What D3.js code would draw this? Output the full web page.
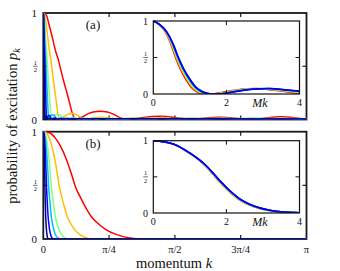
<!DOCTYPE html>
<html><head><meta charset="utf-8">
<script src="https://cdn.jsdelivr.net/npm/d3@7"></script>
<style>
html,body{margin:0;padding:0;background:#fff;}
svg{display:block;}
text{font-family:"Liberation Serif","DejaVu Serif",serif;fill:#111;}
</style></head>
<body>
<svg id="chart" width="340" height="271"></svg>
<script>
// ---------- data ----------
const seriesColors = ["#ff0000", "#ffbf00", "#80ff80", "#00bfff", "#0000ff", "#00008b"];
const seriesM = [5, 10, 20, 30, 50, 100];
// relative height of the oscillating tail in panel (a), per series
const tailScaleA = [1, 0.72, 0.64, 0.58, 0.5, 0.4];

// panel (a) main: p versus M*k
const shapeA_u = [0, 0.18, 0.36, 0.54, 0.72, 0.90, 1.07, 1.25, 1.43, 1.61, 1.73, 1.85, 1.97, 2.09, 2.39, 2.69, 2.98, 3.40, 3.82, 4.18, 4.48, 4.77, 5.01, 5.37, 5.97, 6.98, 8.06, 8.77, 9.55, 10.56, 11.64, 12.36, 13.13, 14.15, 15.22, 15.9, 16.8, 17.7, 18.6, 19.5, 20.4, 21.3, 22.2, 23.1, 24.0, 24.9, 25.8, 26.7, 27.6, 28.5, 29.4, 30.3, 31.2, 32.1, 400];
const shapeA_p = [1.0, 0.98, 0.88, 0.77, 0.65, 0.56, 0.45, 0.34, 0.24, 0.13, 0.06, 0.015, 0.0, 0.01, 0.03, 0.055, 0.07, 0.078, 0.07, 0.05, 0.025, 0.005, 0.0, 0.005, 0.02, 0.03, 0.015, 0.0, 0.012, 0.02, 0.01, 0.0, 0.012, 0.025, 0.012, 0.0, 0.01, 0.015, 0.01, 0.0, 0.01, 0.015, 0.01, 0.0, 0.01, 0.015, 0.01, 0.0, 0.01, 0.015, 0.01, 0.0, 0.01, 0.015, 0.0];

// panel (b) main: p versus M*k
const shapeB_u = [0, 0.36, 0.72, 1.01, 1.41, 1.67, 1.91, 2.21, 2.51, 2.86, 3.30, 3.76, 4.30, 4.77, 5.29, 5.97, 400];
const shapeB_p = [1.0, 0.99, 0.94, 0.87, 0.73, 0.61, 0.49, 0.39, 0.30, 0.21, 0.14, 0.085, 0.045, 0.022, 0.008, 0.0, 0.0];

// insets: p versus Mk, with a small per-series stretch
const insetA_u = [0, 0.18, 0.37, 0.55, 0.69, 0.82, 1.01, 1.19, 1.37, 1.55, 1.74, 1.95, 2.2, 2.45, 2.65, 2.93, 3.2, 3.39, 3.7, 4.0, 4.3, 4.6];
const insetA_p = [1.0, 0.95, 0.85, 0.68, 0.5, 0.36, 0.2, 0.085, 0.028, 0.005, 0.0, 0.008, 0.028, 0.048, 0.06, 0.073, 0.074, 0.069, 0.055, 0.04, 0.02, 0.0];
const insetA_stretch = [0.88, 0.91, 0.94, 0.965, 1.0, 0.985];
const insetB_u = [0, 0.55, 1.0, 1.46, 1.82, 2.0, 2.36, 2.82, 3.27, 3.73, 4.0, 4.2];
const insetB_p = [1.0, 0.955, 0.83, 0.65, 0.45, 0.355, 0.2, 0.087, 0.032, 0.01, 0.004, 0.0];
const insetB_stretch = [0.975, 0.98, 0.985, 0.99, 1.0, 0.995];

const mainXTickValues = [0, Math.PI / 4, Math.PI / 2, 3 * Math.PI / 4, Math.PI];
const mainXTickLabels = ["0", "π/4", "π/2", "3π/4", "π"];
const insetXTickValues = [0, 2, 4];
const insetXTickLabels = ["0", "2", "4"];
const panelLabels = ["(a)", "(b)"];

// ---------- layout ----------
const svg = d3.select("#chart");
const mainL = 43.3, mainR = 306.5;
const panels = [
  {top: 13, bottom: 119.5, shapeU: shapeA_u, shapeP: shapeA_p, tail: tailScaleA,
   insetTop: 21, insetBottom: 94, iu: insetA_u, ip: insetA_p, stretch: insetA_stretch, label: panelLabels[0]},
  {top: 131.7, bottom: 239, shapeU: shapeB_u, shapeP: shapeB_p, tail: null,
   insetTop: 140.7, insetBottom: 213, iu: insetB_u, ip: insetB_p, stretch: insetB_stretch, label: panelLabels[1]}
];
const insetL = 153.3, insetR = 299.5;

const x = d3.scaleLinear().domain([0, Math.PI]).range([mainL, mainR]);
const xi = d3.scaleLinear().domain([0, 4]).range([insetL, insetR]);

// stacked fraction 1/2
function fraction(g, cx, cy, size) {
  const t = g.append("g").attr("transform", `translate(${cx},${cy})`);
  t.append("text").attr("x", 0).attr("y", -1.5).attr("text-anchor", "middle").attr("font-size", size).text("1");
  t.append("text").attr("x", 0).attr("y", size * 0.93).attr("text-anchor", "middle").attr("font-size", size).text("2");
  t.append("line").attr("x1", -2.3).attr("x2", 2.3).attr("y1", 0).attr("y2", 0)
    .attr("stroke", "#111").attr("stroke-width", 0.6);
}

const defs = svg.append("defs");

panels.forEach((P, pi) => {
  const y = d3.scaleLinear().domain([0, 1]).range([P.bottom, P.top]);
  const g = svg.append("g");
  defs.append("clipPath").attr("id", "clipMain" + pi).append("rect")
    .attr("x", mainL).attr("y", P.top - 2).attr("width", mainR - mainL).attr("height", P.bottom - P.top + 2);

  // frame
  g.append("rect").attr("x", mainL).attr("y", P.top).attr("width", mainR - mainL).attr("height", P.bottom - P.top)
    .attr("fill", "none").attr("stroke", "#1a1a1a").attr("stroke-width", 1.8);

  // ticks (inward)
  mainXTickValues.slice(1, 4).forEach(v => {
    g.append("line").attr("x1", x(v)).attr("x2", x(v)).attr("y1", P.top).attr("y2", P.top + 4)
      .attr("stroke", "#1a1a1a").attr("stroke-width", 1.2);
    g.append("line").attr("x1", x(v)).attr("x2", x(v)).attr("y1", P.bottom).attr("y2", P.bottom - 4)
      .attr("stroke", "#1a1a1a").attr("stroke-width", 1.2);
  });
  g.append("line").attr("x1", mainL).attr("x2", mainL + 4).attr("y1", y(0.5)).attr("y2", y(0.5))
    .attr("stroke", "#1a1a1a").attr("stroke-width", 1.2);
  g.append("line").attr("x1", mainR).attr("x2", mainR - 4).attr("y1", y(0.5)).attr("y2", y(0.5))
    .attr("stroke", "#1a1a1a").attr("stroke-width", 1.2);

  // y tick labels
  g.append("text").attr("x", 37).attr("y", y(1) + 4).attr("text-anchor", "end").attr("font-size", 11).text("1");
  g.append("text").attr("x", 37).attr("y", y(0) + 4).attr("text-anchor", "end").attr("font-size", 11).text("0");
  fraction(g, 35.3, y(0.5), 6.6);

  // curves
  const curveG = g.append("g").attr("clip-path", `url(#clipMain${pi})`);
  seriesM.forEach((M, si) => {
    const pts = P.shapeU.map((u, i) => {
      let p = P.shapeP[i];
      if (P.tail && u > 1.95) p = p * P.tail[si];
      return [u / M, p];
    });
    curveG.append("path").datum(pts)
      .attr("fill", "none").attr("stroke", seriesColors[si]).attr("stroke-width", 1.5)
      .attr("d", d3.line().x(d => x(d[0])).y(d => y(d[1])).curve(d3.curveMonotoneX));
  });

  // panel label
  g.append("text").attr("x", 93).attr("y", P.top + 16).attr("text-anchor", "middle")
    .attr("font-size", 13).text(P.label);

  // inset
  const yi = d3.scaleLinear().domain([0, 1]).range([P.insetBottom, P.insetTop]);
  const ig = g.append("g");
  ig.append("rect").attr("x", insetL).attr("y", P.insetTop).attr("width", insetR - insetL)
    .attr("height", P.insetBottom - P.insetTop).attr("fill", "#fff");
  defs.append("clipPath").attr("id", "clipInset" + pi).append("rect")
    .attr("x", insetL).attr("y", P.insetTop - 2).attr("width", insetR - insetL).attr("height", P.insetBottom - P.insetTop + 2);
  const icg = ig.append("g").attr("clip-path", `url(#clipInset${pi})`);
  const order = d3.range(seriesM.length).sort((a, b) => P.stretch[a] - P.stretch[b]);
  order.forEach(si => {
    const pts = P.iu.map((u, i) => [u * P.stretch[si], P.ip[i]]);
    icg.append("path").datum(pts)
      .attr("fill", "none").attr("stroke", seriesColors[si]).attr("stroke-width", 1.5)
      .attr("d", d3.line().x(d => xi(d[0])).y(d => yi(d[1])).curve(d3.curveMonotoneX));
  });
  ig.append("rect").attr("x", insetL).attr("y", P.insetTop).attr("width", insetR - insetL)
    .attr("height", P.insetBottom - P.insetTop).attr("fill", "none").attr("stroke", "#111").attr("stroke-width", 1.2);
  // inset ticks
  ig.append("line").attr("x1", xi(2)).attr("x2", xi(2)).attr("y1", P.insetTop).attr("y2", P.insetTop + 4)
    .attr("stroke", "#111").attr("stroke-width", 1);
  ig.append("line").attr("x1", xi(2)).attr("x2", xi(2)).attr("y1", P.insetBottom).attr("y2", P.insetBottom - 4)
    .attr("stroke", "#111").attr("stroke-width", 1);
  ig.append("line").attr("x1", insetL).attr("x2", insetL + 4).attr("y1", yi(0.5)).attr("y2", yi(0.5))
    .attr("stroke", "#111").attr("stroke-width", 1);
  ig.append("line").attr("x1", insetR).attr("x2", insetR - 4).attr("y1", yi(0.5)).attr("y2", yi(0.5))
    .attr("stroke", "#111").attr("stroke-width", 1);
  // inset labels
  ig.append("text").attr("x", 148).attr("y", yi(1) + 3.5).attr("text-anchor", "end").attr("font-size", 10).text("1");
  ig.append("text").attr("x", 148).attr("y", yi(0) + 3.5).attr("text-anchor", "end").attr("font-size", 10).text("0");
  fraction(ig, 145.5, yi(0.5), 6.2);
  insetXTickValues.forEach((v, i) => {
    ig.append("text").attr("x", xi(v)).attr("y", P.insetBottom + 12).attr("text-anchor", "middle")
      .attr("font-size", 10).text(insetXTickLabels[i]);
  });
  ig.append("text").attr("x", 260).attr("y", P.insetBottom + 12.5).attr("text-anchor", "middle")
    .attr("font-size", 12).attr("font-style", "italic").text("Mk");
});

// main x tick labels
mainXTickValues.forEach((v, i) => {
  svg.append("text").attr("x", x(v)).attr("y", 253).attr("text-anchor", "middle")
    .attr("font-size", 10.5).text(mainXTickLabels[i]);
});

// axis titles
const xt = svg.append("text").attr("x", 174).attr("y", 268).attr("text-anchor", "middle").attr("font-size", 14.5);
xt.append("tspan").text("momentum ");
xt.append("tspan").attr("font-style", "italic").text("k");

const yt = svg.append("text").attr("transform", "translate(17,126) rotate(-90)").attr("text-anchor", "middle").attr("font-size", 14.5);
yt.append("tspan").text("probability of excitation ");
yt.append("tspan").attr("font-style", "italic").text("p");
yt.append("tspan").attr("font-style", "italic").attr("font-size", 10).attr("dy", 3).text("k");
</script>
</body></html>
